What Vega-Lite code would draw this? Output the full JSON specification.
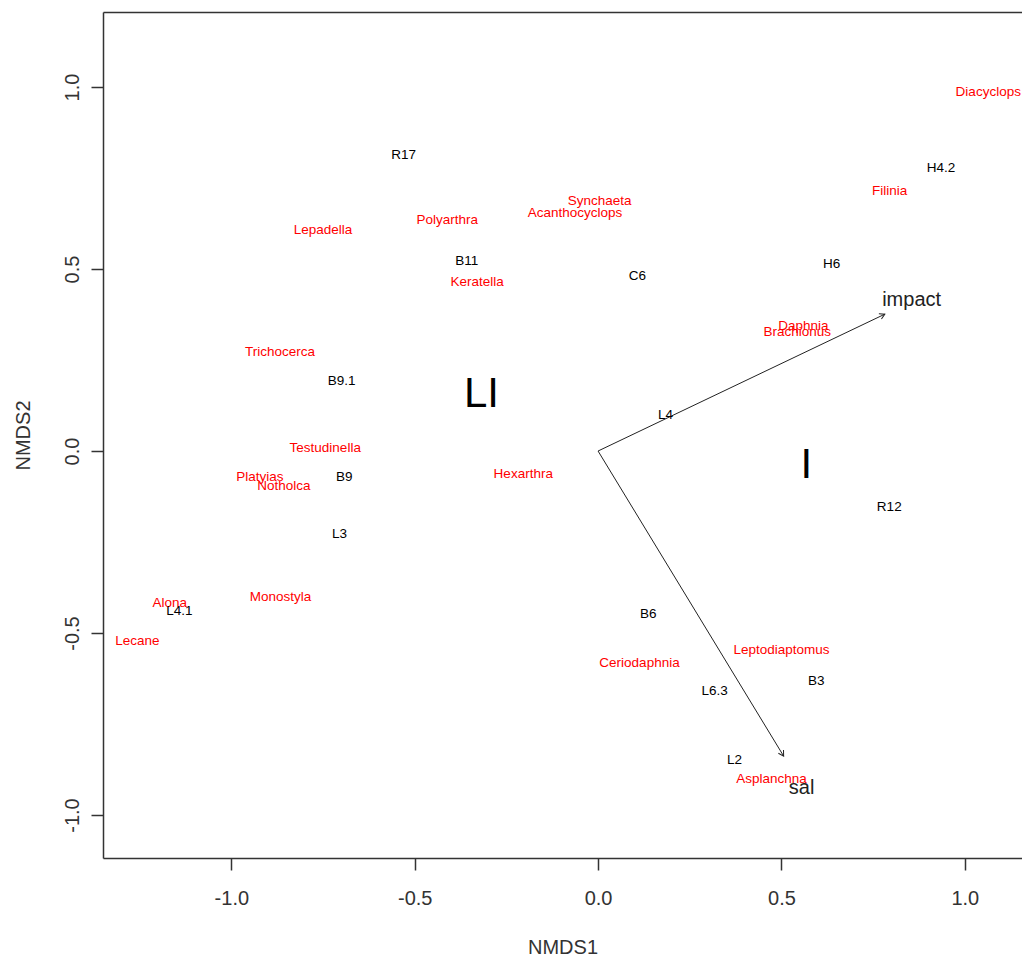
{
  "$schema": "https://vega.github.io/schema/vega-lite/v6.json",
  "width": 919,
  "height": 846,
  "autosize": {"type": "none"},
  "padding": {"left": 103, "top": 12, "right": 0, "bottom": 99},
  "background": "white",
  "config": {"view": {"stroke": null}, "font": "Liberation Sans"},
  "datasets": {
    "species": [
      {"name": "Diacyclops", "x": 1.064, "y": 0.987},
      {"name": "Filinia", "x": 0.795, "y": 0.715},
      {"name": "Synchaeta", "x": 0.004, "y": 0.687},
      {"name": "Acanthocyclops", "x": -0.063, "y": 0.653},
      {"name": "Polyarthra", "x": -0.411, "y": 0.635},
      {"name": "Lepadella", "x": -0.75, "y": 0.607},
      {"name": "Keratella", "x": -0.33, "y": 0.463},
      {"name": "Daphnia", "x": 0.56, "y": 0.344},
      {"name": "Brachionus", "x": 0.543, "y": 0.328},
      {"name": "Trichocerca", "x": -0.867, "y": 0.271},
      {"name": "Testudinella", "x": -0.744, "y": 0.007},
      {"name": "Hexarthra", "x": -0.204, "y": -0.063},
      {"name": "Platyias", "x": -0.922, "y": -0.071},
      {"name": "Notholca", "x": -0.857, "y": -0.096},
      {"name": "Monostyla", "x": -0.866, "y": -0.4},
      {"name": "Alona", "x": -1.168, "y": -0.417},
      {"name": "Lecane", "x": -1.256, "y": -0.522},
      {"name": "Leptodiaptomus", "x": 0.5, "y": -0.547},
      {"name": "Ceriodaphnia", "x": 0.113, "y": -0.583},
      {"name": "Asplanchna", "x": 0.473, "y": -0.901}
    ],
    "sites": [
      {"name": "R17", "x": -0.53, "y": 0.813},
      {"name": "H4.2", "x": 0.935, "y": 0.778},
      {"name": "B11", "x": -0.358, "y": 0.523},
      {"name": "H6", "x": 0.637, "y": 0.513},
      {"name": "C6", "x": 0.107, "y": 0.482},
      {"name": "B9.1", "x": -0.699, "y": 0.192},
      {"name": "L4", "x": 0.184, "y": 0.099},
      {"name": "B9", "x": -0.692, "y": -0.072},
      {"name": "R12", "x": 0.794, "y": -0.153},
      {"name": "L3", "x": -0.705, "y": -0.229},
      {"name": "L4.1", "x": -1.142, "y": -0.439},
      {"name": "B6", "x": 0.137, "y": -0.449},
      {"name": "B3", "x": 0.595, "y": -0.632},
      {"name": "L6.3", "x": 0.318, "y": -0.659},
      {"name": "L2", "x": 0.372, "y": -0.849}
    ],
    "arrows": [
      {"name": "impact", "x0": 0, "y0": 0, "x": 0.782, "y": 0.376, "lx": 0.855, "ly": 0.415},
      {"name": "sal", "x0": 0, "y0": 0, "x": 0.506, "y": -0.838, "lx": 0.555, "ly": -0.927}
    ],
    "groups": [
      {"name": "LI", "x": -0.318, "y": 0.158},
      {"name": "I", "x": 0.568, "y": -0.038}
    ]
  },
  "resolve": {"axis": {"x": "independent"}},
  "layer": [
    {
      "data": {"name": "arrows"},
      "mark": {"type": "rule", "color": "#222", "strokeWidth": 1},
      "encoding": {
        "x": {"field": "x0", "type": "quantitative",
          "scale": {"domain": [-1.35, 1.156], "nice": false, "zero": false},
          "axis": {
            "orient": "bottom", "values": [-1, -0.5, 0, 0.5, 1], "format": ".1f",
            "labelExpr": "replace(datum.label, '\u2212', '-')",
            "grid": false, "tickSize": 12, "tickColor": "#333", "tickWidth": 1.5,
            "domainColor": "#333", "domainWidth": 1.5,
            "labelFont": "Liberation Sans", "labelFontSize": 20, "labelColor": "#333",
            "labelPadding": 18, "labelBaseline": "top", "labelFlush": false, "labelOverlap": false,
            "title": "NMDS1", "titleFont": "Liberation Sans", "titleFontSize": 20, "titleFontWeight": "normal",
            "titleColor": "#333", "titleY": 95, "titleBaseline": "alphabetic"
          }
        },
        "y": {"field": "y0", "type": "quantitative",
          "scale": {"domain": [-1.118, 1.206], "nice": false, "zero": false},
          "axis": {
            "orient": "left", "values": [-1, -0.5, 0, 0.5, 1], "format": ".1f",
            "labelExpr": "replace(datum.label, '\u2212', '-')",
            "grid": false, "tickSize": 12, "tickColor": "#333", "tickWidth": 1.5,
            "domainColor": "#333", "domainWidth": 1.5,
            "labelFont": "Liberation Sans", "labelFontSize": 20, "labelColor": "#333",
            "labelAngle": 270, "labelAlign": "center", "labelBaseline": "alphabetic",
            "labelPadding": 13, "labelFlush": false, "labelOverlap": false,
            "title": "NMDS2", "titleFont": "Liberation Sans", "titleFontSize": 20, "titleFontWeight": "normal",
            "titleColor": "#333", "titleAngle": 270, "titleX": -74, "titleY": 423,
            "titleAlign": "center", "titleBaseline": "alphabetic"
          }
        },
        "x2": {"field": "x"},
        "y2": {"field": "y"}
      }
    },
    {
      "data": {"name": "arrows"},
      "transform": [{"filter": "datum.name == 'impact'"}],
      "mark": {"type": "point", "shape": "M-0.5,0.866L0,0L0.5,0.866", "size": 144, "angle": 64.5, "filled": false, "stroke": "#222", "strokeWidth": 1, "opacity": 1},
      "encoding": {
        "x": {"field": "x", "type": "quantitative", "axis": null},
        "y": {"field": "y", "type": "quantitative"}
      }
    },
    {
      "data": {"name": "arrows"},
      "transform": [{"filter": "datum.name == 'sal'"}],
      "mark": {"type": "point", "shape": "M-0.5,0.866L0,0L0.5,0.866", "size": 144, "angle": 148.7, "filled": false, "stroke": "#222", "strokeWidth": 1, "opacity": 1},
      "encoding": {
        "x": {"field": "x", "type": "quantitative", "axis": null},
        "y": {"field": "y", "type": "quantitative"}
      }
    },
    {
      "data": {"name": "arrows"},
      "mark": {"type": "text", "font": "Liberation Sans", "fontSize": 20, "color": "#222", "align": "center", "baseline": "middle"},
      "encoding": {
        "x": {"field": "lx", "type": "quantitative", "axis": null},
        "y": {"field": "ly", "type": "quantitative"},
        "text": {"field": "name"}
      }
    },
    {
      "data": {"name": "species"},
      "mark": {"type": "text", "font": "Liberation Sans", "fontSize": 13.5, "color": "#ff0000", "align": "center", "baseline": "middle"},
      "encoding": {
        "x": {"field": "x", "type": "quantitative",
          "axis": {"orient": "top", "domain": true, "domainColor": "#333", "domainWidth": 1.5, "ticks": false, "labels": false, "grid": false, "title": null}},
        "y": {"field": "y", "type": "quantitative"},
        "text": {"field": "name"}
      }
    },
    {
      "data": {"name": "sites"},
      "mark": {"type": "text", "font": "Liberation Sans", "fontSize": 13.5, "color": "#000", "align": "center", "baseline": "middle"},
      "encoding": {
        "x": {"field": "x", "type": "quantitative", "axis": null},
        "y": {"field": "y", "type": "quantitative"},
        "text": {"field": "name"}
      }
    },
    {
      "data": {"name": "groups"},
      "mark": {"type": "text", "font": "Liberation Sans", "fontSize": 42, "color": "#000", "align": "center", "baseline": "middle"},
      "encoding": {
        "x": {"field": "x", "type": "quantitative", "axis": null},
        "y": {"field": "y", "type": "quantitative"},
        "text": {"field": "name"}
      }
    }
  ]
}
